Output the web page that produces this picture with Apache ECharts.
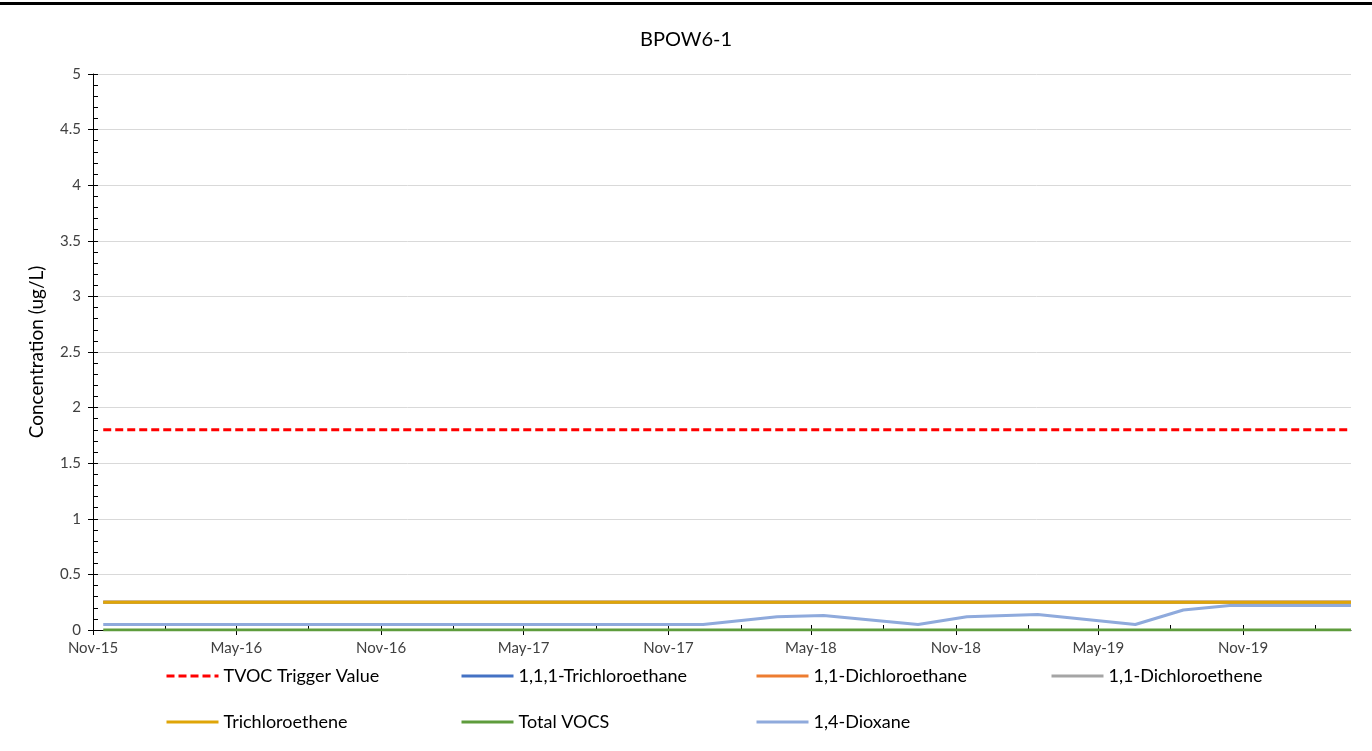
<!DOCTYPE html>
<html>
<head>
<meta charset="utf-8">
<script src="https://cdn.jsdelivr.net/npm/echarts@6/dist/echarts.min.js"></script>
<style>
html,body{margin:0;padding:0;background:#fff;}
#chart{width:1372px;height:751px;}
</style>
</head>
<body>
<div id="chart"></div>
<script>
const sampleDates = ['2015-11-14','2016-02-15','2016-05-16','2016-08-15','2016-11-14','2017-02-14','2017-05-15','2017-08-14','2017-12-15','2018-03-19','2018-05-17','2018-09-14','2018-11-15','2019-02-13','2019-06-17','2019-08-17','2019-10-15','2019-12-16','2020-03-17'];
const tvocTrigger = [1.8,1.8,1.8,1.8,1.8,1.8,1.8,1.8,1.8,1.8,1.8,1.8,1.8,1.8,1.8,1.8,1.8,1.8,1.8];
const trichloroethane111 = [0.25,0.25,0.25,0.25,0.25,0.25,0.25,0.25,0.25,0.25,0.25,0.25,0.25,0.25,0.25,0.25,0.25,0.25,0.25];
const dichloroethane11 = [0.25,0.25,0.25,0.25,0.25,0.25,0.25,0.25,0.25,0.25,0.25,0.25,0.25,0.25,0.25,0.25,0.25,0.25,0.25];
const dichloroethene11 = [0.25,0.25,0.25,0.25,0.25,0.25,0.25,0.25,0.25,0.25,0.25,0.25,0.25,0.25,0.25,0.25,0.25,0.25,0.25];
const trichloroethene = [0.25,0.25,0.25,0.25,0.25,0.25,0.25,0.25,0.25,0.25,0.25,0.25,0.25,0.25,0.25,0.25,0.25,0.25,0.25];
const totalVOCs = [0,0,0,0,0,0,0,0,0,0,0,0,0,0,0,0,0,0,0];
const dioxane14 = [0.05,0.05,0.05,0.05,0.05,0.05,0.05,0.05,0.05,0.12,0.13,0.05,0.12,0.14,0.05,0.18,0.22,0.22,0.22];
const majorTickDates = ['2015-11-01','2016-05-01','2016-11-01','2017-05-01','2017-11-01','2018-05-01','2018-11-01','2019-05-01','2019-11-01'];
const minorTickDates = ['2016-02-01','2016-08-01','2017-02-01','2017-08-01','2018-02-01','2018-08-01','2019-02-01','2019-08-01','2020-02-01'];

const FONT = 'Lato';
const MONTHS = ['Jan','Feb','Mar','Apr','May','Jun','Jul','Aug','Sep','Oct','Nov','Dec'];
const ts = s => new Date(s + 'T00:00:00Z').getTime();
const majorTs = majorTickDates.map(ts);
const allTickTs = majorTickDates.concat(minorTickDates).map(ts).sort((a,b)=>a-b);
const xMin = ts('2015-11-01');
const xMax = ts(sampleDates[sampleDates.length-1]);

function pairs(vals){ return sampleDates.map((d,i)=>[ts(d), vals[i]]); }

const seriesDefs = [
  {name:'TVOC Trigger Value', data:tvocTrigger, color:'#FF0000', type:[8,4]},
  {name:'1,1,1-Trichloroethane', data:trichloroethane111, color:'#4472C4'},
  {name:'1,1-Dichloroethane', data:dichloroethane11, color:'#ED7D31'},
  {name:'1,1-Dichloroethene', data:dichloroethene11, color:'#A5A5A5'},
  {name:'Trichloroethene', data:trichloroethene, color:'#DFA508'},
  {name:'Total VOCS', data:totalVOCs, color:'#5E9C3C'},
  {name:'1,4-Dioxane', data:dioxane14, color:'#8FAADC'}
];

const legendPos = [[165,667],[460,667],[755,667],[1050,667],[165,713],[460,713],[755,713]];

const chart = echarts.init(document.getElementById('chart'), null, {renderer:'canvas'});
chart.setOption({
  animation:false,
  backgroundColor:'#fff',
  title:{text:'BPOW6-1', left:'center', top:25, textStyle:{fontFamily:FONT, fontSize:20, fontWeight:'normal', color:'#000'}},
  graphic:[{type:'rect', shape:{x:0,y:2,width:1372,height:3}, style:{fill:'#000'}, silent:true}],
  grid:{left:93, right:21, top:74, bottom:121},
  legend: seriesDefs.map((s,i)=>({
    data:[s.name], left:legendPos[i][0], top:legendPos[i][1],
    itemWidth:52, itemHeight:18, itemGap:0,
    itemStyle:{opacity:0},
    lineStyle:{width:3, type:s.type||'solid', color:s.color, cap:'butt'},
    textStyle:{fontFamily:FONT, fontSize:18, color:'#000'},
    padding:0
  })),
  xAxis:[{
    type:'value', min:xMin, max:xMax, gridIndex:0,
    axisLine:{show:true, onZero:false, lineStyle:{color:'#000', width:1}},
    axisTick:{show:true, length:5, inside:false, lineStyle:{color:'#000'}, customValues:majorTs},
    axisLabel:{show:true, fontFamily:FONT, fontSize:15, color:'#404040', margin:11, customValues:majorTs,
      formatter:v=>{const d=new Date(v); return MONTHS[d.getUTCMonth()]+'-'+String(d.getUTCFullYear()).slice(2);}},
    splitLine:{show:false}
  },{
    type:'value', min:xMin, max:xMax, gridIndex:0, position:'bottom',
    axisLine:{show:false, onZero:false},
    axisTick:{show:true, length:5, inside:true, lineStyle:{color:'#000'}, customValues:allTickTs},
    axisLabel:{show:false, customValues:allTickTs},
    splitLine:{show:false}
  }],
  yAxis:[{
    type:'value', min:0, max:5, interval:0.5,
    name:'Concentration (ug/L)', nameLocation:'middle', nameGap:47,
    nameTextStyle:{fontFamily:FONT, fontSize:19, color:'#000'},
    axisLine:{show:true, lineStyle:{color:'#000'}},
    axisTick:{show:true, length:5, inside:false, lineStyle:{color:'#000'}},
    axisLabel:{fontFamily:FONT, fontSize:15, color:'#404040', margin:12},
    splitLine:{show:true, lineStyle:{color:'#D9D9D9', width:1}}
  },{
    type:'value', min:0, max:5, interval:0.1, position:'left',
    axisLine:{show:false},
    axisTick:{show:true, length:5, inside:true, lineStyle:{color:'#000'}},
    axisLabel:{show:false},
    splitLine:{show:false}
  }],
  series: seriesDefs.map(s=>({
    name:s.name, type:'line', xAxisIndex:0, yAxisIndex:0,
    data:pairs(s.data), showSymbol:false, symbol:'none',
    color:s.color,
    lineStyle:{color:s.color, width:3, type:s.type||'solid', cap:'butt'},
    itemStyle:{color:s.color}
  }))
});
</script>
</body>
</html>
